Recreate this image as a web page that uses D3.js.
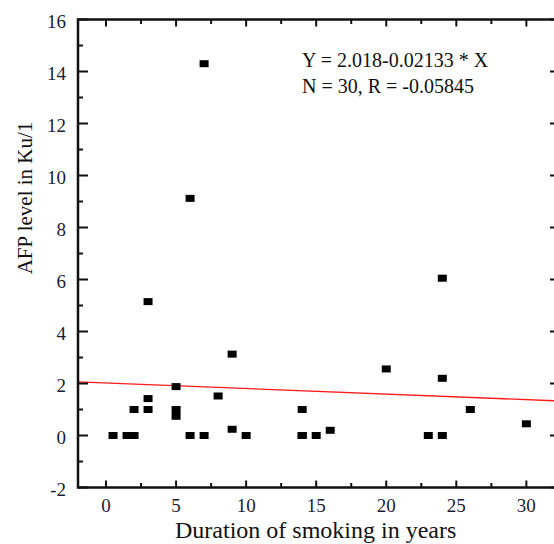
<!DOCTYPE html>
<html>
<head>
<meta charset="utf-8">
<script src="https://cdn.jsdelivr.net/npm/d3@7"></script>
<style>
    body { margin: 0; background: #fff; }
    svg { display: block; font-family: "Liberation Serif", "DejaVu Serif", serif; }
</style>
</head>
<body>
<div id="chart"></div>
<script>

// duration of smoking (years) and AFP level (Ku/l)
const duration = [0.5, 1.5, 2, 2, 3, 3, 3, 5, 5, 5, 6, 6, 7, 7, 8, 9, 9, 10, 14, 14, 15, 16, 20, 23, 24, 24, 24, 26, 30, 14];
const afp      = [0, 0, 0, 1, 1, 1.42, 5.15, 1.88, 1.0, 0.74, 0, 9.12, 0, 14.3, 1.52, 0.24, 3.13, 0, 1.0, 0, 0, 0.2, 2.56, 0, 0, 2.2, 6.05, 1.0, 0.45, 0];

const fitIntercept = 2.018;
const fitSlope = -0.02133;
const statLines = ["Y = 2.018-0.02133 * X", "N = 30, R = -0.05845"];

const xTicks = [0, 5, 10, 15, 20, 25, 30];
const xMinor = [2.5, 7.5, 12.5, 17.5, 22.5, 27.5];
const yTicks = [-2, 0, 2, 4, 6, 8, 10, 12, 14, 16];
const yMinor = [-1, 1, 3, 5, 7, 9, 11, 13, 15];

const xTitle = "Duration of smoking in years";
const yTitle = "AFP level in Ku/1";

const width = 554;
const height = 544;
const margin = {top: 19.5, left: 78, right: -6, bottom: 56.5};

const svg = d3.select("#chart")
    .append("svg")
    .attr("width", width)
    .attr("height", height);

const xScale = d3.scaleLinear()
    .domain([-2, 32.4])
    .range([margin.left, width - margin.right]);

const yScale = d3.scaleLinear()
    .domain([-2, 16])
    .range([height - margin.bottom, margin.top]);

const x0 = xScale.range()[0], x1 = xScale.range()[1];
const y0 = yScale.range()[0], y1 = yScale.range()[1];

/* regression line */
svg.append("line")
    .attr("x1", xScale(-2))
    .attr("y1", yScale(fitIntercept + fitSlope * -2))
    .attr("x2", xScale(32.4))
    .attr("y2", yScale(fitIntercept + fitSlope * 32.4))
    .attr("stroke", "#ff1a1a")
    .attr("stroke-width", 1.3);

/* points */
const pts = duration.map(function(d, i) { return {x: d, y: afp[i]}; });
svg.selectAll("rect.pt")
    .data(pts)
    .enter()
    .append("rect")
        .attr("class", "pt")
        .attr("x", function(d) { return xScale(d.x) - 4.5; })
        .attr("y", function(d) { return yScale(d.y) - 3.5; })
        .attr("width", 9)
        .attr("height", 7)
        .attr("fill", "#000");

/* ticks (inward) */
const tk = svg.append("g").attr("stroke", "#111").attr("stroke-width", 2);

function xTick(v, len) {
    tk.append("line").attr("x1", xScale(v)).attr("x2", xScale(v)).attr("y1", y0).attr("y2", y0 - len);
    tk.append("line").attr("x1", xScale(v)).attr("x2", xScale(v)).attr("y1", y1).attr("y2", y1 + len);
}
function yTick(v, len) {
    tk.append("line").attr("x1", x0).attr("x2", x0 + len).attr("y1", yScale(v)).attr("y2", yScale(v));
    tk.append("line").attr("x1", x1).attr("x2", x1 - len).attr("y1", yScale(v)).attr("y2", yScale(v));
}
xTicks.forEach(function(v) { xTick(v, 7); });
xMinor.forEach(function(v) { xTick(v, 4.5); });
yTicks.forEach(function(v) { yTick(v, 10); });
yMinor.forEach(function(v) { yTick(v, 5); });

/* frame */
svg.append("rect")
    .attr("x", x0)
    .attr("y", y1)
    .attr("width", x1 - x0)
    .attr("height", y0 - y1)
    .attr("fill", "none")
    .attr("stroke", "#111")
    .attr("stroke-width", 2.5);

/* tick labels */
svg.selectAll("text.xl")
    .data(xTicks)
    .enter()
    .append("text")
        .attr("class", "xl")
        .attr("x", function(d) { return xScale(d); })
        .attr("y", 512)
        .attr("text-anchor", "middle")
        .attr("font-size", 19)
        .attr("fill", "#1b1b33")
        .text(function(d) { return d; });

svg.selectAll("text.yl")
    .data(yTicks)
    .enter()
    .append("text")
        .attr("class", "yl")
        .attr("x", 66)
        .attr("y", function(d) { return yScale(d) + 8.5; })
        .attr("text-anchor", "end")
        .attr("font-size", 19)
        .attr("fill", "#1b1b33")
        .text(function(d) { return d; });

/* axis titles */
svg.append("text")
    .attr("x", 175)
    .attr("y", 538)
    .attr("font-size", 24)
    .attr("fill", "#111")
    .text(xTitle);

svg.append("text")
    .attr("transform", "translate(32,198) rotate(-90)")
    .attr("text-anchor", "middle")
    .attr("font-size", 21)
    .attr("fill", "#111")
    .text(yTitle);

/* fit statistics */
statLines.forEach(function(s, i) {
    svg.append("text")
        .attr("x", 302)
        .attr("y", 67 + i * 25.5)
        .attr("font-size", 20)
        .attr("fill", "#111")
        .text(s);
});

</script>
</body>
</html>
